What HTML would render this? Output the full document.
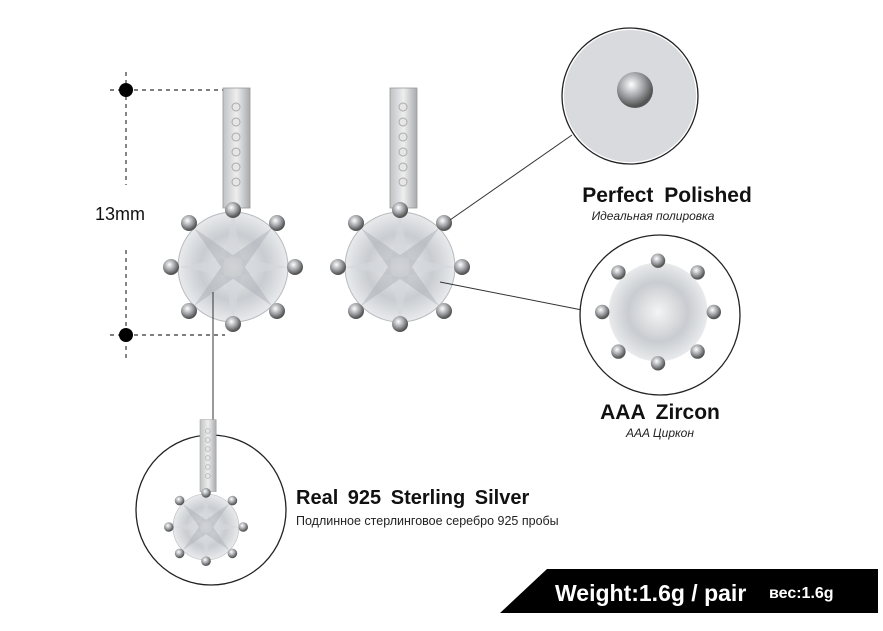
<!DOCTYPE html>
<html><head><meta charset="utf-8"><style>
body{margin:0;background:#fff;width:883px;height:626px;overflow:hidden;font-family:"Liberation Sans",sans-serif}
</style></head><body>
<svg width="883" height="626" viewBox="0 0 883 626" xmlns="http://www.w3.org/2000/svg">
<defs>
<radialGradient id="st" cx="50%" cy="50%" r="50%">
<stop offset="0" stop-color="#f4f4f4"/><stop offset="0.6" stop-color="#c9ccd0"/><stop offset="1" stop-color="#e8eaec"/></radialGradient>
<radialGradient id="pr" cx="40%" cy="35%" r="60%">
<stop offset="0" stop-color="#fff"/><stop offset="0.6" stop-color="#9a9ca0"/><stop offset="1" stop-color="#555"/></radialGradient>
<linearGradient id="bar" x1="0" x2="1"><stop offset="0" stop-color="#bfc1c4"/><stop offset="0.5" stop-color="#eee"/><stop offset="1" stop-color="#a8aaad"/></linearGradient>
<g id="ear">
<rect x="-10" y="-179" width="27" height="120" fill="url(#bar)" stroke="#999" stroke-width="0.8"/>
<circle cx="3" cy="-160" r="4" fill="#e6e6e6" stroke="#aaa"/><circle cx="3" cy="-145" r="4" fill="#e6e6e6" stroke="#aaa"/><circle cx="3" cy="-130" r="4" fill="#e6e6e6" stroke="#aaa"/><circle cx="3" cy="-115" r="4" fill="#e6e6e6" stroke="#aaa"/><circle cx="3" cy="-100" r="4" fill="#e6e6e6" stroke="#aaa"/><circle cx="3" cy="-85" r="4" fill="#e6e6e6" stroke="#aaa"/>
<circle r="55" fill="url(#st)" stroke="#b8bbbf"/>
<path d="M0-55L10 0L0 55L-10 0Z M-55 0L0 10L55 0L0-10Z" fill="#d4d7db" opacity="0.7"/>
<path d="M-39-39L7-7L39 39L-7 7Z M39-39L7 7L-39 39L-7-7Z" fill="#aeb2b8" opacity="0.5"/>
<circle cx="0" cy="-57" r="8" fill="url(#pr)"/><circle cx="0" cy="57" r="8" fill="url(#pr)"/>
<circle cx="-62" cy="0" r="8" fill="url(#pr)"/><circle cx="62" cy="0" r="8" fill="url(#pr)"/>
<circle cx="-44" cy="-44" r="8" fill="url(#pr)"/><circle cx="44" cy="-44" r="8" fill="url(#pr)"/>
<circle cx="-44" cy="44" r="8" fill="url(#pr)"/><circle cx="44" cy="44" r="8" fill="url(#pr)"/>
</g>
</defs>
<g stroke="#333" stroke-width="1.2" stroke-dasharray="4,4" fill="none">
<line x1="110" y1="90" x2="225" y2="90"/><line x1="110" y1="335" x2="225" y2="335"/>
<line x1="126" y1="72" x2="126" y2="185"/><line x1="126" y1="250" x2="126" y2="360"/>
</g>
<circle cx="126" cy="90" r="7" fill="#000"/><circle cx="126" cy="335" r="7" fill="#000"/>
<text x="95" y="220" font-size="18" fill="#111">13mm</text>
<use href="#ear" x="233" y="267"/>
<use href="#ear" x="400" y="267"/>
<g stroke="#333" stroke-width="1">
<line x1="213" y1="292" x2="213" y2="437"/>
<line x1="450" y1="220" x2="572" y2="135"/>
<line x1="440" y1="282" x2="582" y2="310"/>
</g>
<g fill="#fff" stroke="#222" stroke-width="1.3">
<circle cx="630" cy="96" r="68"/><circle cx="660" cy="315" r="80"/><circle cx="211" cy="510" r="75"/>
</g>
<circle cx="630" cy="96" r="66" fill="#d8dadd"/>
<circle cx="635" cy="90" r="18" fill="url(#pr)"/>
<g transform="translate(658,312) scale(0.9)"><circle r="55" fill="url(#st)"/>
<circle cx="0" cy="-57" r="8" fill="url(#pr)"/><circle cx="0" cy="57" r="8" fill="url(#pr)"/>
<circle cx="-62" cy="0" r="8" fill="url(#pr)"/><circle cx="62" cy="0" r="8" fill="url(#pr)"/>
<circle cx="-44" cy="-44" r="8" fill="url(#pr)"/><circle cx="44" cy="-44" r="8" fill="url(#pr)"/>
<circle cx="-44" cy="44" r="8" fill="url(#pr)"/><circle cx="44" cy="44" r="8" fill="url(#pr)"/></g>
<g transform="translate(206,527) scale(0.6)"><use href="#ear"/></g>
<text x="667" y="202" font-size="21" font-weight="bold" text-anchor="middle" fill="#111" word-spacing="5">Perfect Polished</text>
<text x="653" y="220" font-size="12" font-style="italic" text-anchor="middle" fill="#222">Идеальная полировка</text>
<text x="660" y="419" font-size="21" font-weight="bold" text-anchor="middle" fill="#111" word-spacing="5">AAA Zircon</text>
<text x="660" y="437" font-size="12" font-style="italic" text-anchor="middle" fill="#222">AAA Циркон</text>
<text x="296" y="504" font-size="20" font-weight="bold" fill="#111" word-spacing="4">Real 925 Sterling Silver</text>
<text x="296" y="525" font-size="12.5" fill="#222">Подлинное стерлинговое серебро 925 пробы</text>
<polygon points="547,569 878,569 878,613 500,613" fill="#000"/>
<text x="555" y="601" font-size="23" font-weight="bold" fill="#fff">Weight:1.6g / pair</text>
<text x="769" y="598" font-size="16" font-weight="bold" fill="#fff">вес:1.6g</text>
</svg>
</body></html>
